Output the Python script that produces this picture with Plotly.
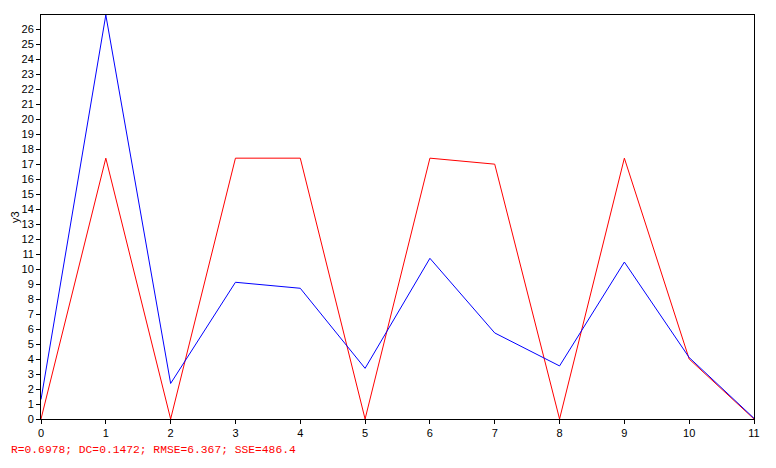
import plotly.graph_objects as go

x_vals = [0, 1, 2, 3, 4, 5, 6, 7, 8, 9, 10, 11]
red_vals = [0, 17.4, 0, 17.4, 17.4, 0, 17.4, 17.0, 0, 17.4, 4.0, 0]
blue_vals = [1.3, 26.95, 2.37, 9.12, 8.72, 3.38, 10.72, 5.74, 3.54, 10.47, 4.1, 0.05]
stats_text = "R=0.6978; DC=0.1472; RMSE=6.367; SSE=486.4"
y_title = "y3"

fig = go.Figure()
fig.add_trace(go.Scatter(x=x_vals, y=red_vals, mode="lines",
                         line=dict(color="#FF0000", width=1), showlegend=False))
fig.add_trace(go.Scatter(x=x_vals, y=blue_vals, mode="lines",
                         line=dict(color="#0000FF", width=1), showlegend=False))

fig.update_layout(
    width=776, height=468,
    margin=dict(l=33, r=30, t=7, b=57),
    paper_bgcolor="white", plot_bgcolor="white",
    font=dict(family="Liberation Sans, Arial", size=11, color="black"),
    showlegend=False,
)
fig.update_xaxes(range=[0, 11], dtick=1, tick0=0, showgrid=False, zeroline=False,
                 showline=True, linecolor="black", linewidth=1, mirror=True,
                 ticks="outside", ticklen=4, tickcolor="black",
                 tickfont=dict(size=11, color="black"))
fig.update_yaxes(range=[0, 26.95], dtick=1, tick0=0, showgrid=False, zeroline=False,
                 showline=True, linecolor="black", linewidth=1, mirror=True,
                 ticks="outside", ticklen=4, tickcolor="black",
                 tickfont=dict(size=11, color="black"), automargin=False)

fig.add_annotation(text=y_title, xref="paper", yref="paper", x=0, y=0.5,
                   xanchor="center", yanchor="middle", showarrow=False,
                   textangle=-90, xshift=-26,
                   font=dict(size=11, color="black"))

fig.add_annotation(text=stats_text, xref="paper", yref="paper", x=0, y=0,
                   xanchor="left", yanchor="middle", showarrow=False,
                   xshift=-32, yshift=-31,
                   font=dict(family="Liberation Mono, Courier New", size=11.3, color="#FF0000"))

fig.write_html("out.html")
